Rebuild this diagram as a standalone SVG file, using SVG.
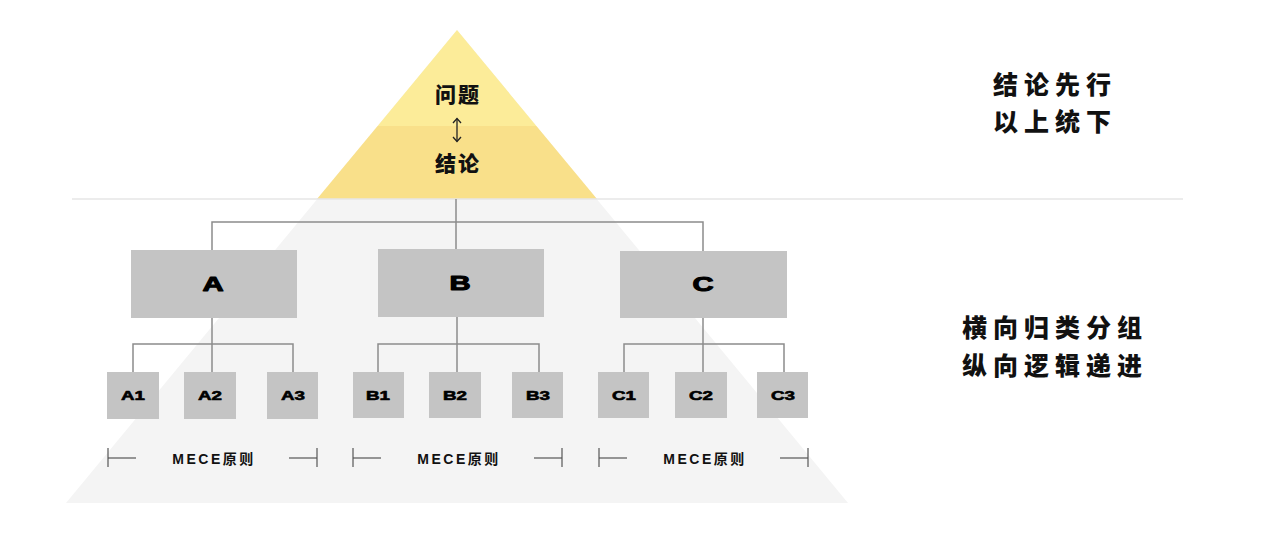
<svg xmlns="http://www.w3.org/2000/svg" width="1280" height="540" viewBox="0 0 1280 540">
  <style>
    .box { fill: #c4c4c4; }
    .big { font-family: "Liberation Sans", "DejaVu Sans", sans-serif; font-weight: 900; font-size: 19.5px; fill: #000; stroke: #000; stroke-width: 1; stroke-linejoin: round; text-anchor: middle; }
    .small { font-family: "Liberation Sans", "DejaVu Sans", sans-serif; font-weight: 900; font-size: 12.5px; fill: #000; stroke: #000; stroke-width: 0.6; stroke-linejoin: round; text-anchor: middle; }
    .conn { stroke: #8c8c8c; stroke-width: 1.5; fill: none; }
    .brk { stroke: #555; stroke-width: 1.2; fill: none; }
    .mece { font-family: "Liberation Sans", "Noto Sans CJK SC", sans-serif; font-weight: 700; font-size: 14px; letter-spacing: 2.5px; fill: #111; text-anchor: middle; }
    .cjk { font-family: "Noto Sans CJK SC", "Noto Sans", sans-serif; font-weight: 900; fill: #111; text-anchor: middle; }
    .side { font-size: 25px; letter-spacing: 6px; }
    .pyr { font-size: 21px; letter-spacing: 2px; }
  </style>
  <rect width="1280" height="540" fill="#ffffff"/>

  <g id="pyramid">
    <polygon points="457,30 848,503 66,503" fill="#f4f4f4"/>
    <polygon points="377.6,126 536.4,126 597,199 317,199" fill="#f9e08a"/>
    <polygon points="457,30 536.4,126 377.6,126" fill="#fcec99"/>
  </g>

  <line x1="72" y1="199" x2="1183" y2="199" stroke="#e6e6e6" stroke-width="1.5"/>

  <g id="top-labels">
    <text class="cjk pyr" x="458" y="101.5">问题</text>
    <g id="updown-arrow" stroke="#222" stroke-width="1.3" fill="none">
      <line x1="457" y1="118.5" x2="457" y2="141.5"/>
      <polyline points="453,123 457,118.5 461,123"/>
      <polyline points="453,137 457,141.5 461,137"/>
    </g>
    <text class="cjk pyr" x="458" y="171">结论</text>
  </g>

  <g id="connectors">
    <polyline class="conn" points="456,199 456,249"/>
    <polyline class="conn" points="212,250 212,222 703,222 703,251"/>
    <polyline class="conn" points="212,318 212,372"/>
    <polyline class="conn" points="133,372 133,344 293,344 293,372"/>
    <polyline class="conn" points="457,317 457,372"/>
    <polyline class="conn" points="378,372 378,344 539,344 539,372"/>
    <polyline class="conn" points="703,318 703,372"/>
    <polyline class="conn" points="624,372 624,344 784,344 784,372"/>
  </g>

  <g id="node-A"><rect class="box" x="131" y="250" width="166" height="68"/><text class="big" transform="translate(213,291) scale(1.5,1)">A</text></g>
  <g id="node-B"><rect class="box" x="378" y="249" width="166" height="68"/><text class="big" transform="translate(460,290) scale(1.5,1)">B</text></g>
  <g id="node-C"><rect class="box" x="620" y="251" width="167" height="67"/><text class="big" transform="translate(703,291) scale(1.5,1)">C</text></g>

  <g id="node-A1"><rect class="box" x="107" y="372" width="52" height="47"/><text class="small" transform="translate(133,400) scale(1.5,1)">A1</text></g>
  <g id="node-A2"><rect class="box" x="184" y="372" width="52" height="47"/><text class="small" transform="translate(210,400) scale(1.5,1)">A2</text></g>
  <g id="node-A3"><rect class="box" x="267" y="372" width="51" height="47"/><text class="small" transform="translate(293,400) scale(1.5,1)">A3</text></g>
  <g id="node-B1"><rect class="box" x="353" y="372" width="51" height="46"/><text class="small" transform="translate(378,400) scale(1.5,1)">B1</text></g>
  <g id="node-B2"><rect class="box" x="429" y="372" width="52" height="46"/><text class="small" transform="translate(455,400) scale(1.5,1)">B2</text></g>
  <g id="node-B3"><rect class="box" x="512" y="372" width="51" height="46"/><text class="small" transform="translate(538,400) scale(1.5,1)">B3</text></g>
  <g id="node-C1"><rect class="box" x="598" y="372" width="51" height="46"/><text class="small" transform="translate(624,400) scale(1.5,1)">C1</text></g>
  <g id="node-C2"><rect class="box" x="675" y="372" width="52" height="46"/><text class="small" transform="translate(701,400) scale(1.5,1)">C2</text></g>
  <g id="node-C3"><rect class="box" x="757" y="372" width="51" height="46"/><text class="small" transform="translate(783,400) scale(1.5,1)">C3</text></g>

  <g id="mece-A">
    <polyline class="brk" points="108,448 108,467"/><line class="brk" x1="108" y1="458" x2="136" y2="458"/>
    <line class="brk" x1="289" y1="458" x2="317" y2="458"/><polyline class="brk" points="317,448 317,467"/>
    <text class="mece" x="214" y="464">MECE原则</text>
  </g>
  <g id="mece-B">
    <polyline class="brk" points="353,448 353,467"/><line class="brk" x1="353" y1="458" x2="381" y2="458"/>
    <line class="brk" x1="534" y1="458" x2="562" y2="458"/><polyline class="brk" points="562,448 562,467"/>
    <text class="mece" x="459" y="464">MECE原则</text>
  </g>
  <g id="mece-C">
    <polyline class="brk" points="599,448 599,467"/><line class="brk" x1="599" y1="458" x2="627" y2="458"/>
    <line class="brk" x1="780" y1="458" x2="808" y2="458"/><polyline class="brk" points="808,448 808,467"/>
    <text class="mece" x="705" y="464">MECE原则</text>
  </g>

  <g id="side-top">
    <text class="cjk side" x="1055" y="93.5">结论先行</text>
    <text class="cjk side" x="1055" y="130.5">以上统下</text>
  </g>
  <g id="side-bottom">
    <text class="cjk side" x="1055" y="337">横向归类分组</text>
    <text class="cjk side" x="1055" y="375">纵向逻辑递进</text>
  </g>
</svg>
